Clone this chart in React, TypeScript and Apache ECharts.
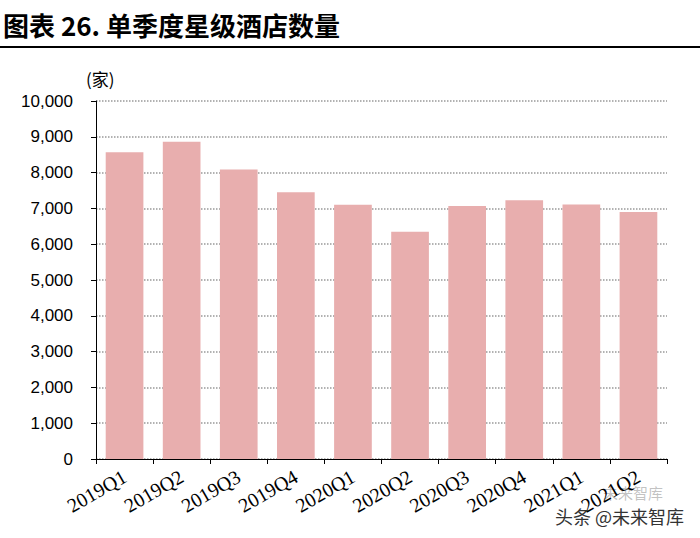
import React, { useEffect, useRef } from "react";
import * as echarts from "echarts";

const categories = ["2019Q1", "2019Q2", "2019Q3", "2019Q4", "2020Q1", "2020Q2", "2020Q3", "2020Q4", "2021Q1", "2021Q2"];
const hotelCounts = [8570, 8860, 8090, 7450, 7100, 6345, 7065, 7225, 7110, 6900];
const yMin = 0;
const yMax = 10000;
const yInterval = 1000;

export default function App() {
  const ref = useRef<HTMLDivElement>(null);
  useEffect(() => {
    if (!ref.current) return;
    const chart = echarts.init(ref.current, null, { renderer: "svg" });
    chart.setOption({
      animation: false,
      backgroundColor: "#ffffff",
      grid: { left: 96, right: 33, top: 101, bottom: 79, containLabel: false },
      graphic: [
        {
          type: "text",
          left: 3,
          top: 11,
          style: {
            text: "图表 26. 单季度星级酒店数量",
            font: "bold 26px 'Noto Sans CJK SC', sans-serif",
            fill: "#000000",
          },
        },
        {
          type: "rect",
          shape: { x: 0, y: 46, width: 700, height: 2 },
          style: { fill: "#000000" },
        },
        {
          type: "text",
          left: 86,
          top: 70,
          style: {
            text: "(家)",
            font: "17px 'Noto Sans CJK SC', sans-serif",
            fill: "#000000",
          },
        },
        {
          type: "text",
          left: 603,
          top: 485,
          style: {
            text: "未来智库",
            font: "15px 'Noto Sans CJK SC', sans-serif",
            fill: "rgba(120,120,120,0.45)",
          },
        },
        {
          type: "text",
          left: 555,
          top: 507,
          style: {
            text: "头条 @未来智库",
            font: "18px 'Noto Sans CJK SC', sans-serif",
            fill: "#333333",
          },
        },
      ],
      xAxis: {
        type: "category",
        data: categories,
        boundaryGap: true,
        axisLine: { show: true, lineStyle: { color: "#000000", width: 1 } },
        axisTick: { show: true, alignWithLabel: false, length: 5, lineStyle: { color: "#000000" } },
        axisLabel: {
          rotate: 30,
          interval: 0,
          margin: 16,
          color: "#000000",
          fontFamily: "'Liberation Serif', serif",
          fontSize: 20,
        },
        splitLine: { show: false },
      },
      yAxis: {
        type: "value",
        min: yMin,
        max: yMax,
        interval: yInterval,
        axisLine: { show: true, lineStyle: { color: "#000000", width: 1 } },
        axisTick: { show: true, inside: false, length: 5, lineStyle: { color: "#000000" } },
        axisLabel: {
          margin: 23,
          color: "#000000",
          fontFamily: "'Liberation Sans', Arial, sans-serif",
          fontSize: 17,
          formatter: (v: number) => v.toLocaleString("en-US"),
        },
        splitLine: { show: true, lineStyle: { color: "#999999", type: "dotted", width: 1.5 } },
      },
      series: [
        {
          type: "bar",
          data: hotelCounts,
          barCategoryGap: "34%",
          itemStyle: { color: "#E8AEAE" },
        },
      ],
    });
    return () => chart.dispose();
  }, []);
  return <div ref={ref} style={{ position: "absolute", left: 0, top: 0, width: 700, height: 538 }} />;
}
